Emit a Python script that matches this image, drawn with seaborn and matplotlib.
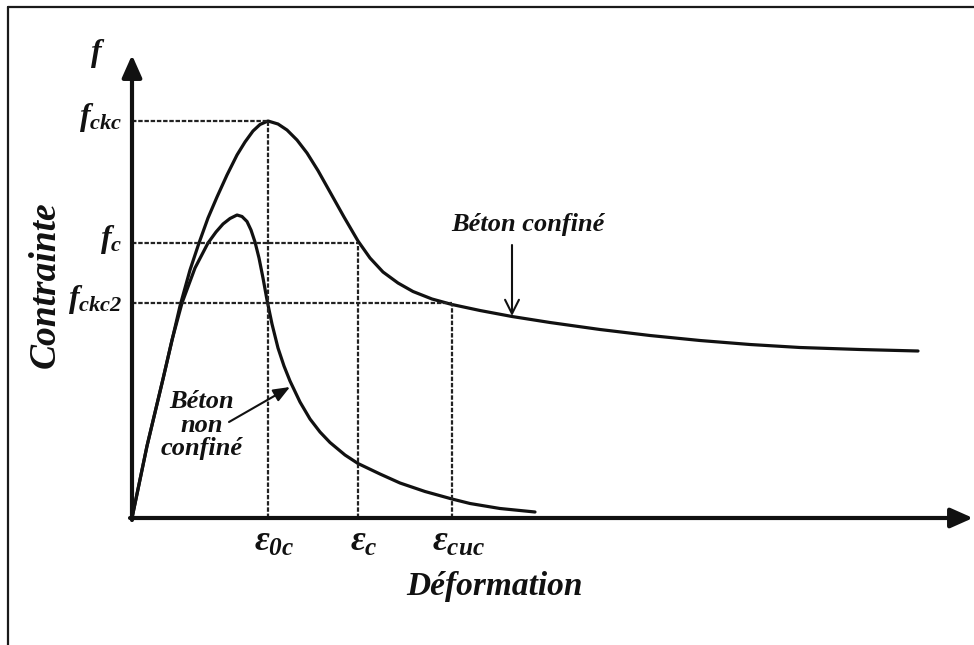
import numpy as np
import pandas as pd
import seaborn as sns
import matplotlib
matplotlib.use("Agg")
import matplotlib.pyplot as plt
from matplotlib.lines import Line2D

# ---------------- data (arbitrary units) ----------------
conf_strain = [0, 15, 31, 48, 58, 67, 76, 85, 95, 105, 113, 121, 128, 136,
               146, 155, 165, 175, 186, 198, 212, 226, 238, 251, 266, 281, 300, 320,
               348, 380, 418, 468, 518, 568, 618, 668, 728, 786]
conf_stress = [0, 72, 139, 212, 248, 275, 300, 321, 343, 363, 376, 387, 393.5, 397,
               394, 388, 378, 365, 347.4, 326, 301, 277, 260, 246, 235, 226.5, 219, 213.5,
               207.5, 201.5, 195.5, 188.5, 182.5, 177.5, 173.5, 170.5, 168.5, 167]

unconf_strain = [0, 15, 31, 40, 50, 63, 76, 84, 91, 98, 105,
                 110, 115, 119, 123, 127, 131, 135, 140, 146, 152, 158, 168, 178, 188,
                 198, 213, 226, 248, 268, 293, 320, 338, 368, 403]
unconf_stress = [0, 72, 139, 178, 215, 250, 275, 286, 294, 299.5, 303,
                 301.5, 296.5, 288, 276, 260, 240, 218, 194, 170, 152, 137, 116, 99, 86,
                 75.5, 63, 54.5, 44, 35, 26.5, 19, 14.5, 9.5, 6]

key_strain = [136, 226, 320]        # eps_0c, eps_c, eps_cuc
key_stress = [397, 275, 215]        # f_ckc, f_c, f_ckc2
strain_labels = [r"$\varepsilon_{0c}$", r"$\varepsilon_{c}$", r"$\varepsilon_{cuc}$"]
stress_labels = [r"$f_{ckc}$", r"$f_{c}$", r"$f_{ckc2}$"]

# ---------------- style ----------------
sns.set_style("white")
plt.rcParams["font.family"] = ["Liberation Serif", "DejaVu Serif"]
plt.rcParams["mathtext.fontset"] = "custom"
plt.rcParams["mathtext.it"] = "Liberation Serif:bold:italic"
plt.rcParams["mathtext.rm"] = "Liberation Serif:bold:italic"
plt.rcParams["mathtext.bf"] = "Liberation Serif:bold:italic"

fig = plt.figure(figsize=(9.74, 6.45), dpi=100)
ax = fig.add_axes([0, 0, 1, 1])
ax.set_xlim(-132, 842)
ax.set_ylim(-127, 518)
ax.axis("off")

ink = "#111111"

df_c = pd.DataFrame({"strain": conf_strain, "stress": conf_stress})
df_u = pd.DataFrame({"strain": unconf_strain, "stress": unconf_stress})
sns.lineplot(data=df_c, x="strain", y="stress", sort=False, color=ink, lw=2.3, ax=ax)
sns.lineplot(data=df_u, x="strain", y="stress", sort=False, color=ink, lw=2.3, ax=ax)

# guide lines
for xs, ys in zip(key_strain, key_stress):
    ax.plot([0, xs], [ys, ys], color="#222222", lw=1.6, dashes=(2, 0.8))
    ax.plot([xs, xs], [0, ys], color="#222222", lw=1.6, dashes=(2, 0.8))

# axes arrows
astyle = dict(arrowstyle="-|>,head_length=0.45,head_width=0.2", color=ink, lw=3,
              mutation_scale=30, shrinkA=0, shrinkB=0)
ax.annotate("", xy=(0, 463), xytext=(0, -2), arrowprops=astyle)
ax.annotate("", xy=(841, 0), xytext=(-2, 0), arrowprops=astyle)

# stress labels
ax.text(-34, 465, r"$f$", fontsize=23, ha="center", va="center", color=ink)
for lab, ys in zip(stress_labels, key_stress):
    ax.text(-10, ys + 4, lab, fontsize=23, ha="right", va="center", color=ink)

# strain labels
for lab, xs in zip(strain_labels, key_strain):
    ax.text(xs + 6, -8, lab, fontsize=26, ha="center", va="top", color=ink)

# axis titles
ax.text(363, -69, "Déformation", fontsize=24, fontweight="bold", fontstyle="italic",
        ha="center", va="center", color=ink)
ax.text(-87, 233, "Contrainte", fontsize=27, fontweight="bold", fontstyle="italic",
        ha="center", va="center", rotation=90, color=ink)

# annotations
ax.text(396, 293, "Béton confiné", fontsize=19, fontweight="bold", fontstyle="italic",
        ha="center", va="center", color=ink)
ax.annotate("", xy=(380, 202), xytext=(380, 273),
            arrowprops=dict(arrowstyle="->,head_length=0.5,head_width=0.25", color=ink, lw=1.5,
                            mutation_scale=20, shrinkA=0, shrinkB=0))
ax.text(70, 93, "Béton\nnon\nconfiné", fontsize=19, fontweight="bold", fontstyle="italic",
        ha="center", va="center", linespacing=1.0, color=ink)
ax.annotate("", xy=(158, 131), xytext=(97, 96),
            arrowprops=dict(arrowstyle="-|>,head_length=0.5,head_width=0.2", color=ink, lw=1.5,
                            mutation_scale=20, shrinkA=0, shrinkB=0))

# outer frame (top and left edges)
fig.add_artist(Line2D([8 / 974, 1], [1 - 7 / 645, 1 - 7 / 645], transform=fig.transFigure,
                      color="#1a1a1a", lw=1.6))
fig.add_artist(Line2D([8 / 974, 8 / 974], [0, 1 - 7 / 645], transform=fig.transFigure,
                      color="#1a1a1a", lw=1.6))

fig.savefig("out.png", dpi=100)
